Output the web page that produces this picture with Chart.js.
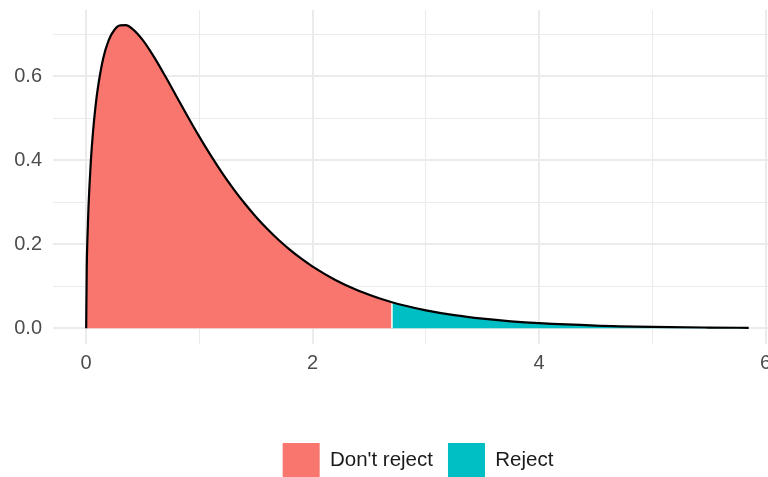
<!DOCTYPE html>
<html>
<head>
<meta charset="utf-8">
<script src="https://cdn.jsdelivr.net/npm/chart.js@4/dist/chart.umd.min.js"></script>
<style>
  html, body { margin: 0; padding: 0; background: #fff; overflow: hidden; }
  #wrap { width: 768px; height: 477px; overflow: hidden; }
</style>
</head>
<body>
<div id="wrap"><canvas id="grafico" width="836" height="487"></canvas></div>
<script>
// densidade (pontos ao longo da curva)
const xValues = [0, 0.005, 0.01, 0.02, 0.04, 0.06, 0.08, 0.1, 0.15, 0.2, 0.25, 0.3, 0.35, 0.4,
  0.5, 0.6, 0.7, 0.8, 0.9, 1.0, 1.1, 1.2, 1.3, 1.4, 1.5, 1.6, 1.7, 1.8, 1.9, 2.0,
  2.2, 2.4, 2.6, 2.7, 2.8, 3.0, 3.25, 3.5, 3.75, 4.0, 4.5, 5.0, 5.5, 5.85];
const density = [0, 0.1465, 0.2056, 0.2864, 0.3927, 0.4663, 0.5221, 0.5660, 0.6419, 0.6864, 0.7107, 0.7211, 0.7215, 0.7146,
  0.6860, 0.6455, 0.5992, 0.5507, 0.5024, 0.4557, 0.4115, 0.3701, 0.3320, 0.2970, 0.2651, 0.2362, 0.2101, 0.1867, 0.1657, 0.1469,
  0.1152, 0.0901, 0.0704, 0.0622, 0.0549, 0.0428, 0.0313, 0.0229, 0.0167, 0.0122, 0.0065, 0.0035, 0.0019, 0.0012];
const criticalValue = 2.7;
const regionLabels = ["Don't reject", 'Reject'];
const regionColors = ['#F8766D', '#00BFC4'];

const pontos = xValues.map((x, i) => ({ x: x, y: density[i] }));
const aceita = pontos.filter(p => p.x <= criticalValue);
const rejeita = pontos.filter(p => p.x >= criticalValue);
const yCrit = density[xValues.indexOf(criticalValue)];

const gridColor = '#ebebeb';
const fonte = 'Liberation Sans, Arial, sans-serif';

const config = {
  type: 'line',
  data: {
    datasets: [
      {
        label: regionLabels[0],
        data: aceita,
        backgroundColor: regionColors[0],
        borderColor: regionColors[0],
        borderWidth: 0,
        fill: 'origin',
        pointRadius: 0,
        cubicInterpolationMode: 'monotone',
        order: 3
      },
      {
        label: regionLabels[1],
        data: rejeita,
        backgroundColor: regionColors[1],
        borderColor: regionColors[1],
        borderWidth: 0,
        fill: 'origin',
        pointRadius: 0,
        cubicInterpolationMode: 'monotone',
        order: 3
      },
      {
        label: 'sep',
        data: [{ x: criticalValue, y: 0 }, { x: criticalValue, y: yCrit }],
        borderColor: '#ffffff',
        borderWidth: 1.5,
        fill: false,
        pointRadius: 0,
        order: 2
      },
      {
        label: 'curva',
        data: pontos,
        borderColor: '#000000',
        borderWidth: 2.2,
        fill: false,
        pointRadius: 0,
        cubicInterpolationMode: 'monotone',
        order: 1
      }
    ]
  },
  options: {
    responsive: false,
    animation: false,
    devicePixelRatio: 1,
    layout: { padding: { top: 0, right: 53, left: 0, bottom: 0 } },
    plugins: {
      tooltip: { enabled: false },
      legend: {
        position: 'bottom',
        fullSize: false,
        labels: {
          filter: item => regionLabels.includes(item.text),
          boxWidth: 37,
          boxHeight: 34,
          padding: 15,
          color: '#1a1a1a',
          font: { family: fonte, size: 20.5 }
        }
      }
    },
    scales: {
      x: {
        type: 'linear',
        min: -0.293,
        max: 6.153,
        border: { display: false },
        grid: {
          color: gridColor,
          drawTicks: false,
          lineWidth: c => (Math.round(c.tick.value) % 2 === 0 ? 2 : 1)
        },
        ticks: {
          stepSize: 1,
          includeBounds: false,
          padding: 8,
          color: '#4d4d4d',
          font: { family: fonte, size: 20 },
          maxRotation: 0,
          autoSkip: false,
          callback: v => (Math.round(v) % 2 === 0 ? String(Math.round(v)) : '')
        },
        afterFit: s => { s.height = 84.5; }
      },
      y: {
        min: -0.0361,
        max: 0.7576,
        border: { display: false },
        grid: {
          color: gridColor,
          drawTicks: true,
          tickLength: 11,
          tickColor: 'rgba(0,0,0,0)',
          lineWidth: c => (Math.round(c.tick.value * 10) % 2 === 0 ? 2 : 1)
        },
        ticks: {
          stepSize: 0.1,
          includeBounds: false,
          padding: 0,
          color: '#4d4d4d',
          font: { family: fonte, size: 20, lineHeight: 1 },
          autoSkip: false,
          callback: v => (Math.round(v * 10) % 2 === 0 ? v.toFixed(1) : '')
        },
        afterFit: s => { s.width = 53; }
      }
    }
  }
};

const ctx = document.getElementById('grafico').getContext('2d');
const grafico = new Chart(ctx, config);
</script>
</body>
</html>
